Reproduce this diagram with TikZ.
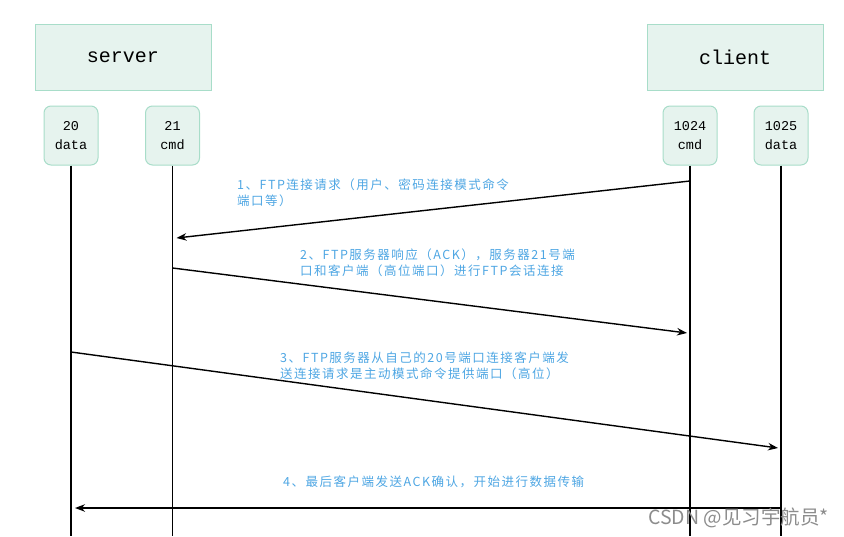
\documentclass[tikz,border=0pt]{standalone}
\usepackage{fontspec}
\usetikzlibrary{arrows.meta}
\newfontfamily\cjk{Noto Sans CJK SC}
\newfontfamily\cjkmsg[LetterSpace=12]{Noto Sans CJK SC}
\newfontfamily\monof{Liberation Mono}
\definecolor{boxfill}{HTML}{E6F3EE}
\definecolor{boxline}{HTML}{A8DDC9}
\definecolor{msgblue}{HTML}{4EA6E3}
\definecolor{wmgray}{HTML}{8C8C8C}
\tikzset{
  hostbox/.style={draw=boxline, fill=boxfill, line width=1pt, minimum width=176pt, minimum height=66pt, inner sep=0pt, font=\monof\fontsize{20}{24}\selectfont},
  portbox/.style={draw=boxline, fill=boxfill, line width=1pt, rounded corners=7pt, minimum width=54pt, minimum height=59pt, inner sep=0pt, align=center, font=\monof\fontsize{13.5}{19.5}\selectfont},
  lifeline/.style={line width=1.3pt, black},
  msg/.style={line width=1.4pt, black, -{Stealth[length=10pt,width=7.5pt]}},
  msgtext/.style={anchor=north west, inner sep=0pt, align=left, text=msgblue, font=\cjkmsg\fontsize{12.5}{15.5}\selectfont}
}
\begin{document}
\begin{tikzpicture}[x=1pt,y=-1pt]
\useasboundingbox (0,0) rectangle (844,536);
\node[hostbox] (server) at (123,57) {server};
\node[hostbox] (client) at (735,57) {client};
\node[portbox] (p20) at (71,135.5) {20\\data};
\node[portbox] (p21) at (172.5,135.5) {21\\cmd};
\node[portbox] (p1024) at (690,135.5) {1024\\cmd};
\node[portbox] (p1025) at (781,135.5) {1025\\data};
% lifeline ends
\coordinate (e20) at (p20.south |- 0,536);
\coordinate (e21) at (p21.south |- 0,536);
\coordinate (e1024) at (p1024.south |- 0,536);
\coordinate (e1025) at (p1025.south |- 0,536);
\draw[lifeline] (p20.south) -- (e20);
\draw[lifeline] (p21.south) -- (e21);
\draw[lifeline] (p1024.south) -- (e1024);
\draw[lifeline] (p1025.south) -- (e1025);
% message endpoints
\coordinate (m1s) at (p1024.south |- 0,181);
\coordinate (m1e) at ([xshift=4pt]p21.south |- 0,238);
\coordinate (m2s) at (p21.south |- 0,268);
\coordinate (m2e) at ([xshift=-3pt]p1024.south |- 0,333);
\coordinate (m3s) at (p20.south |- 0,352);
\coordinate (m3e) at ([xshift=-3pt]p1025.south |- 0,448);
\coordinate (m4s) at (p1025.south |- 0,508);
\coordinate (m4e) at ([xshift=4pt]p20.south |- 0,508);
\draw[msg] (m1s) -- (m1e);
\draw[msg] (m2s) -- (m2e);
\draw[msg] (m3s) -- (m3e);
\draw[msg] (m4s) -- (m4e);
\node[msgtext] (t1) at (237,179) {1、FTP连接请求（用户、密码连接模式命令\\端口等）};
\node[msgtext] (t2) at (300,249) {2、FTP服务器响应（ACK），服务器21号端\\口和客户端（高位端口）进行FTP会话连接};
\node[msgtext] (t3) at (280,352) {3、FTP服务器从自己的20号端口连接客户端发\\送连接请求是主动模式命令提供端口（高位）};
\node[msgtext] (t4) at (283,476) {4、最后客户端发送ACK确认，开始进行数据传输};
\node[anchor=west, inner sep=0pt, text=wmgray, font=\cjk\fontsize{19.5}{22}\selectfont] (wm) at (648,518) {CSDN @见习宇航员*};
\end{tikzpicture}
\end{document}
